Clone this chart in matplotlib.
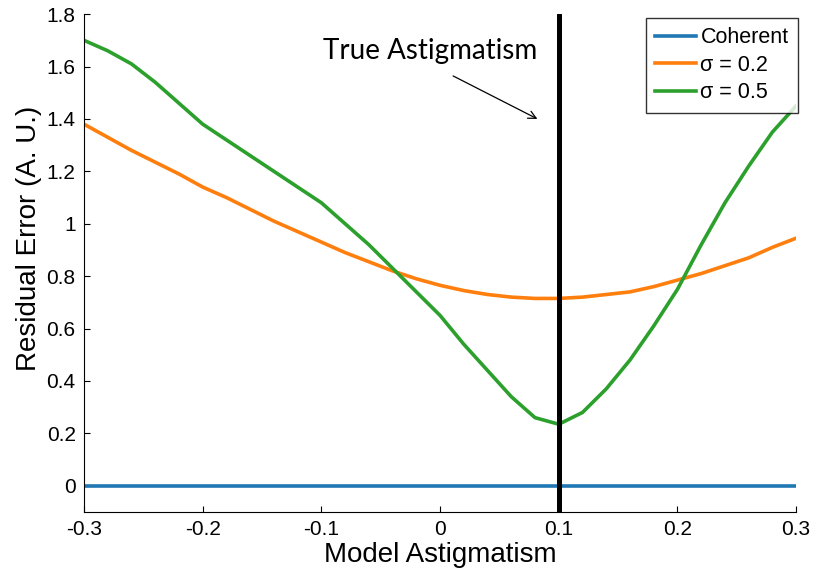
import numpy as np
import matplotlib
matplotlib.use("Agg")
import matplotlib.pyplot as plt
from matplotlib.ticker import FuncFormatter

# model astigmatism sampled every 0.02
model_astig = [-0.30, -0.28, -0.26, -0.24, -0.22, -0.20, -0.18, -0.16, -0.14, -0.12,
               -0.10, -0.08, -0.06, -0.04, -0.02, 0.00, 0.02, 0.04, 0.06, 0.08,
               0.10, 0.12, 0.14, 0.16, 0.18, 0.20, 0.22, 0.24, 0.26, 0.28, 0.30]

coherent = [0.0] * len(model_astig)

sigma_02 = [1.38, 1.33, 1.28, 1.235, 1.19, 1.14, 1.10, 1.055, 1.01, 0.97,
            0.93, 0.89, 0.855, 0.82, 0.79, 0.765, 0.745, 0.73, 0.72, 0.715,
            0.715, 0.72, 0.73, 0.74, 0.76, 0.785, 0.81, 0.84, 0.87, 0.91, 0.945]

sigma_05 = [1.70, 1.66, 1.61, 1.54, 1.46, 1.38, 1.32, 1.26, 1.20, 1.14,
            1.08, 1.00, 0.92, 0.83, 0.74, 0.65, 0.54, 0.44, 0.34, 0.26,
            0.235, 0.28, 0.37, 0.48, 0.61, 0.75, 0.92, 1.08, 1.22, 1.35, 1.45]

true_astig = 0.1
x_ticks = [-0.3, -0.2, -0.1, 0.0, 0.1, 0.2, 0.3]
y_ticks = [0, 0.2, 0.4, 0.6, 0.8, 1.0, 1.2, 1.4, 1.6, 1.8]
series_labels = ["Coherent", "\u03c3 = 0.2", "\u03c3 = 0.5"]
series_colors = ["#1f77b4", "#ff7f0e", "#2ca02c"]

plt.rcParams["font.family"] = ["Liberation Sans", "DejaVu Sans"]

fig = plt.figure(figsize=(8.13, 5.71), dpi=100)
ax = fig.add_axes([0.1033, 0.1033, 0.876, 0.872])

for y, lab, col in zip([coherent, sigma_02, sigma_05], series_labels, series_colors):
    ax.plot(model_astig, y, color=col, lw=2.6, label=lab)

ax.axvline(true_astig, color="black", lw=3.6, zorder=5)

ax.text(-0.008, 1.66, "True Astigmatism", ha="center", va="center",
        fontsize=20, family=["Lato", "DejaVu Sans"])
ax.annotate("", xy=(0.082, 1.40), xytext=(0.011, 1.564),
            arrowprops=dict(arrowstyle="->", color="black", lw=0.9,
                            shrinkA=0, shrinkB=0, mutation_scale=14))

ax.set_xlim(-0.3, 0.3)
ax.set_ylim(-0.1, 1.8)
ax.set_xticks(x_ticks)
ax.set_yticks(y_ticks)
fmt = FuncFormatter(lambda v, p: "%g" % round(v, 6))
ax.xaxis.set_major_formatter(fmt)
ax.yaxis.set_major_formatter(fmt)
ax.tick_params(direction="in", length=4, width=0.8, labelsize=15, pad=6)

ax.spines["top"].set_visible(False)
ax.spines["right"].set_visible(False)

ax.set_xlabel("Model Astigmatism", fontsize=20, labelpad=2)
ax.set_ylabel("Residual Error (A. U.)", fontsize=20)
ax.yaxis.set_label_coords(-0.059, 0.55)

leg = ax.legend(loc="upper right", bbox_to_anchor=(1.003, 0.993), fontsize=15.5,
                frameon=True, fancybox=False, edgecolor="black",
                handlelength=1.9, handletextpad=0.2, borderpad=0.45,
                labelspacing=0.3, borderaxespad=0.0)
leg.get_frame().set_linewidth(1.0)

fig.savefig("out.png", dpi=100)
